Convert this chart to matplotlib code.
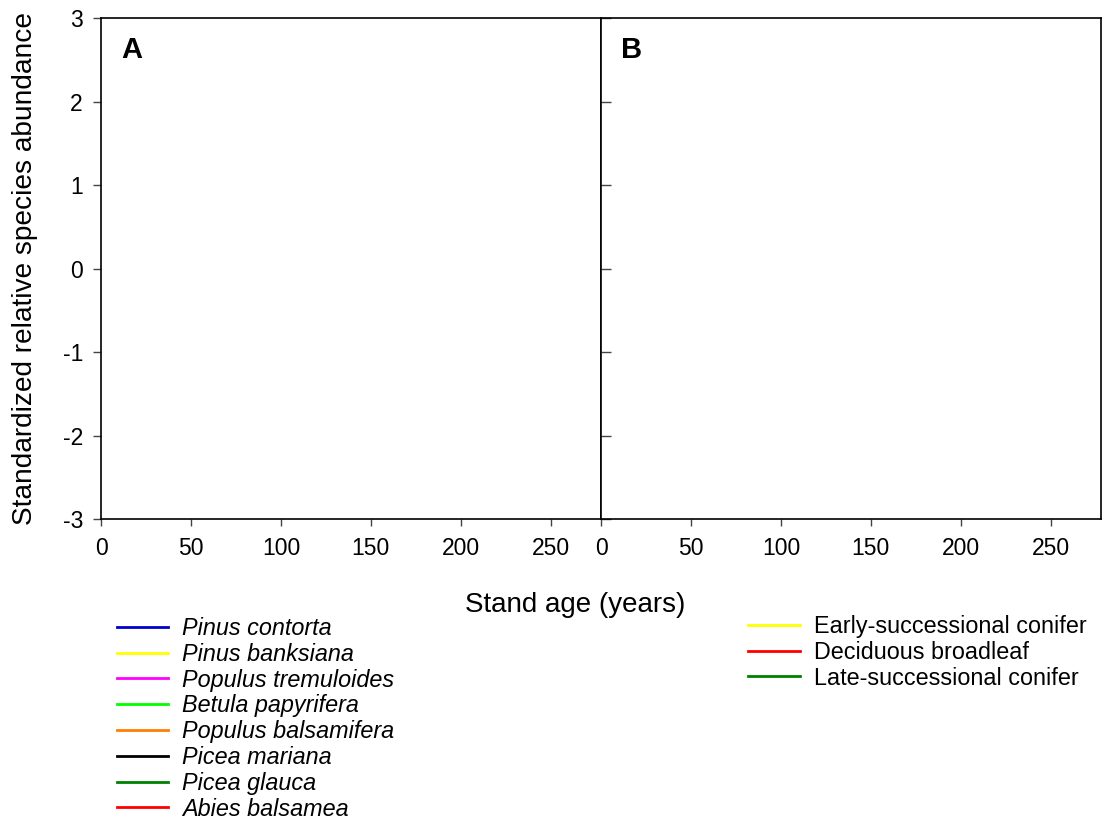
import matplotlib.pyplot as plt
from matplotlib.lines import Line2D

plt.rcParams['font.family'] = ['Liberation Sans', 'DejaVu Sans']
plt.rcParams['axes.unicode_minus'] = False

# Legend entries (no data drawn in the panels)
species = ['Pinus contorta', 'Pinus banksiana', 'Populus tremuloides',
           'Betula papyrifera', 'Populus balsamifera', 'Picea mariana',
           'Picea glauca', 'Abies balsamea']
species_colors = ['#0000CC', '#FFFF00', '#FF00FF', '#00FF00',
                  '#FF8000', '#000000', '#008000', '#FF0000']
groups = ['Early-successional conifer', 'Deciduous broadleaf',
          'Late-successional conifer']
group_colors = ['#FFFF00', '#FF0000', '#008000']

panel_labels = ['A', 'B']
x_ticks = [0, 50, 100, 150, 200, 250]
y_ticks = [-3, -2, -1, 0, 1, 2, 3]

fig = plt.figure(figsize=(11.02, 8.22), dpi=100)
ax_a = fig.add_axes([0.0917, 0.3686, 0.4537, 0.6095])
ax_b = fig.add_axes([0.5454, 0.3686, 0.4537, 0.6095])

for ax, lab in zip([ax_a, ax_b], panel_labels):
    ax.set_xlim(0, 278)
    ax.set_ylim(-3, 3)
    ax.set_xticks(x_ticks)
    ax.set_yticks(y_ticks)
    for s in ax.spines.values():
        s.set_linewidth(1.2)
    ax.tick_params(axis='x', direction='out', length=5, width=1,
                   color='#444444', labelsize=16.5, pad=8)
    ax.text(0.04, 0.936, lab, transform=ax.transAxes, fontsize=21,
            fontweight='bold', va='center', ha='left')

ax_a.tick_params(axis='y', direction='out', length=6, width=1,
                 color='#444444', labelsize=16.5, pad=7)
ax_a.set_ylabel('Standardized relative species abundance', fontsize=20.2,
                labelpad=18)
ax_b.tick_params(axis='y', direction='in', length=7.5, width=1,
                 color='#444444', labelleft=False)

fig.text(0.522, 1 - 605 / 822, 'Stand age (years)', fontsize=20,
         ha='center', va='center')

h1 = [Line2D([], [], color=c, lw=2) for c in species_colors]
leg1 = fig.legend(h1, species, loc='upper left',
                  bbox_to_anchor=(0.106, 1 - 617 / 822),
                  frameon=False, borderpad=0, borderaxespad=0,
                  handlelength=2.2, handletextpad=0.6, labelspacing=0.12,
                  prop={'size': 16.8, 'style': 'italic'})

h2 = [Line2D([], [], color=c, lw=2) for c in group_colors]
leg2 = fig.legend(h2, groups, loc='upper left',
                  bbox_to_anchor=(0.679, 1 - 615 / 822),
                  frameon=False, borderpad=0, borderaxespad=0,
                  handlelength=2.2, handletextpad=0.6, labelspacing=0.12,
                  prop={'size': 16.8})

fig.savefig('out.png', dpi=100)
